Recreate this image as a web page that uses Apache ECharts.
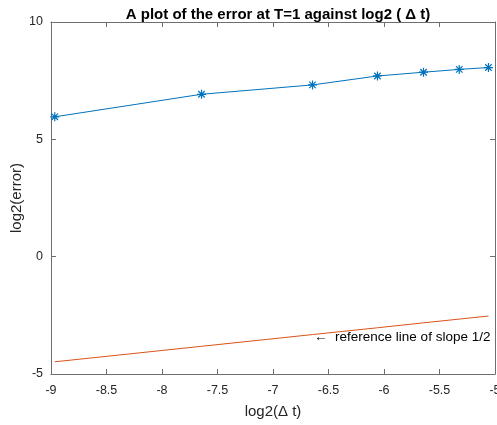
<!DOCTYPE html>
<html>
<head>
<meta charset="utf-8">
<script src="https://cdn.jsdelivr.net/npm/echarts@6/dist/echarts.min.js"></script>
<style>
  html, body { margin: 0; padding: 0; background: #fff; }
  #chart { width: 497px; height: 425px; }
</style>
</head>
<body>
<div id="chart"></div>
<script>
// log2(dt) values on the x axis
const logDt = [-8.966, -7.644, -6.644, -6.059, -5.644, -5.322, -5.059];
// log2(error) at T=1
const logErr = [5.96, 6.92, 7.32, 7.70, 7.86, 7.98, 8.06];
// reference line of slope 1/2
const refLine = [-4.48, -3.82, -3.32, -3.03, -2.82, -2.66, -2.53];
const xTicks = [-9, -8.5, -8, -7.5, -7, -6.5, -6, -5.5, -5];
const yTicks = [-5, 0, 5, 10];

const axisColor = '#6e6e6e';
const textColor = '#262626';
const font = 'Liberation Sans, Arial, sans-serif';

const chart = echarts.init(document.getElementById('chart'));

const star = 'path://M0,-5L0,5M-5,0L5,0M-3.6,-3.6L3.6,3.6M-3.6,3.6L3.6,-3.6';

const baseX = {
    type: 'value', min: -9, max: -5, interval: 0.5,
    axisLine: { show: true, onZero: false, lineStyle: { color: axisColor, width: 1 } },
    axisTick: { show: true, inside: true, length: 5, lineStyle: { color: axisColor } },
    splitLine: { show: false }
};
const baseY = {
    type: 'value', min: -5, max: 10, interval: 5,
    axisLine: { show: true, onZero: false, lineStyle: { color: axisColor, width: 1 } },
    axisTick: { show: true, inside: true, length: 5, lineStyle: { color: axisColor } },
    splitLine: { show: false }
};

chart.setOption({
    animation: false,
    title: {
        text: 'A plot of the error at T=1 against log2 ( \u0394 t)',
        left: 273, top: 2, textAlign: 'center',
        textStyle: { fontFamily: font, fontSize: 15, fontWeight: 'bold', color: '#000' }
    },
    grid: { left: 51, top: 22, right: 2, bottom: 51, outerBoundsMode: 'none', containLabel: false },
    xAxis: [
        Object.assign({}, baseX, {
            position: 'bottom',
            name: 'log2(\u0394 t)', nameLocation: 'middle', nameGap: 30, nameMoveOverlap: false,
            nameTextStyle: { fontFamily: font, fontSize: 15, color: textColor },
            axisLabel: {
                margin: 10, fontFamily: font, fontSize: 12.5, color: textColor,
                formatter: v => xTicks.includes(v) ? String(v) : ''
            }
        }),
        Object.assign({}, baseX, { position: 'top', axisLabel: { show: false } })
    ],
    yAxis: [
        Object.assign({}, baseY, {
            position: 'left',
            name: 'log2(error)', nameLocation: 'middle', nameGap: 27, nameMoveOverlap: false,
            nameTextStyle: { fontFamily: font, fontSize: 15, color: textColor },
            axisLabel: {
                margin: 8, fontFamily: font, fontSize: 12.5, color: textColor,
                formatter: v => yTicks.includes(v) ? String(v) : ''
            }
        }),
        Object.assign({}, baseY, { position: 'right', axisLabel: { show: false } })
    ],
    series: [
        {
            type: 'line',
            data: logDt.map((x, i) => [x, logErr[i]]),
            lineStyle: { color: '#0072BD', width: 1 },
            symbol: star, symbolSize: 9,
            itemStyle: { color: '#0072BD', borderColor: '#0072BD', borderWidth: 1.2 }
        },
        {
            type: 'line',
            data: logDt.map((x, i) => [x, refLine[i]]),
            lineStyle: { color: '#D95319', width: 1 },
            symbol: 'none',
            markPoint: {
                symbol: 'circle', symbolSize: 0,
                data: [{ coord: [-6.63, -3.43] }],
                label: {
                    show: true, position: 'right', distance: 0,
                    formatter: '\u2190  reference line of slope 1/2',
                    fontFamily: font, fontSize: 13.5, color: '#000'
                }
            }
        }
    ]
});
</script>
</body>
</html>
